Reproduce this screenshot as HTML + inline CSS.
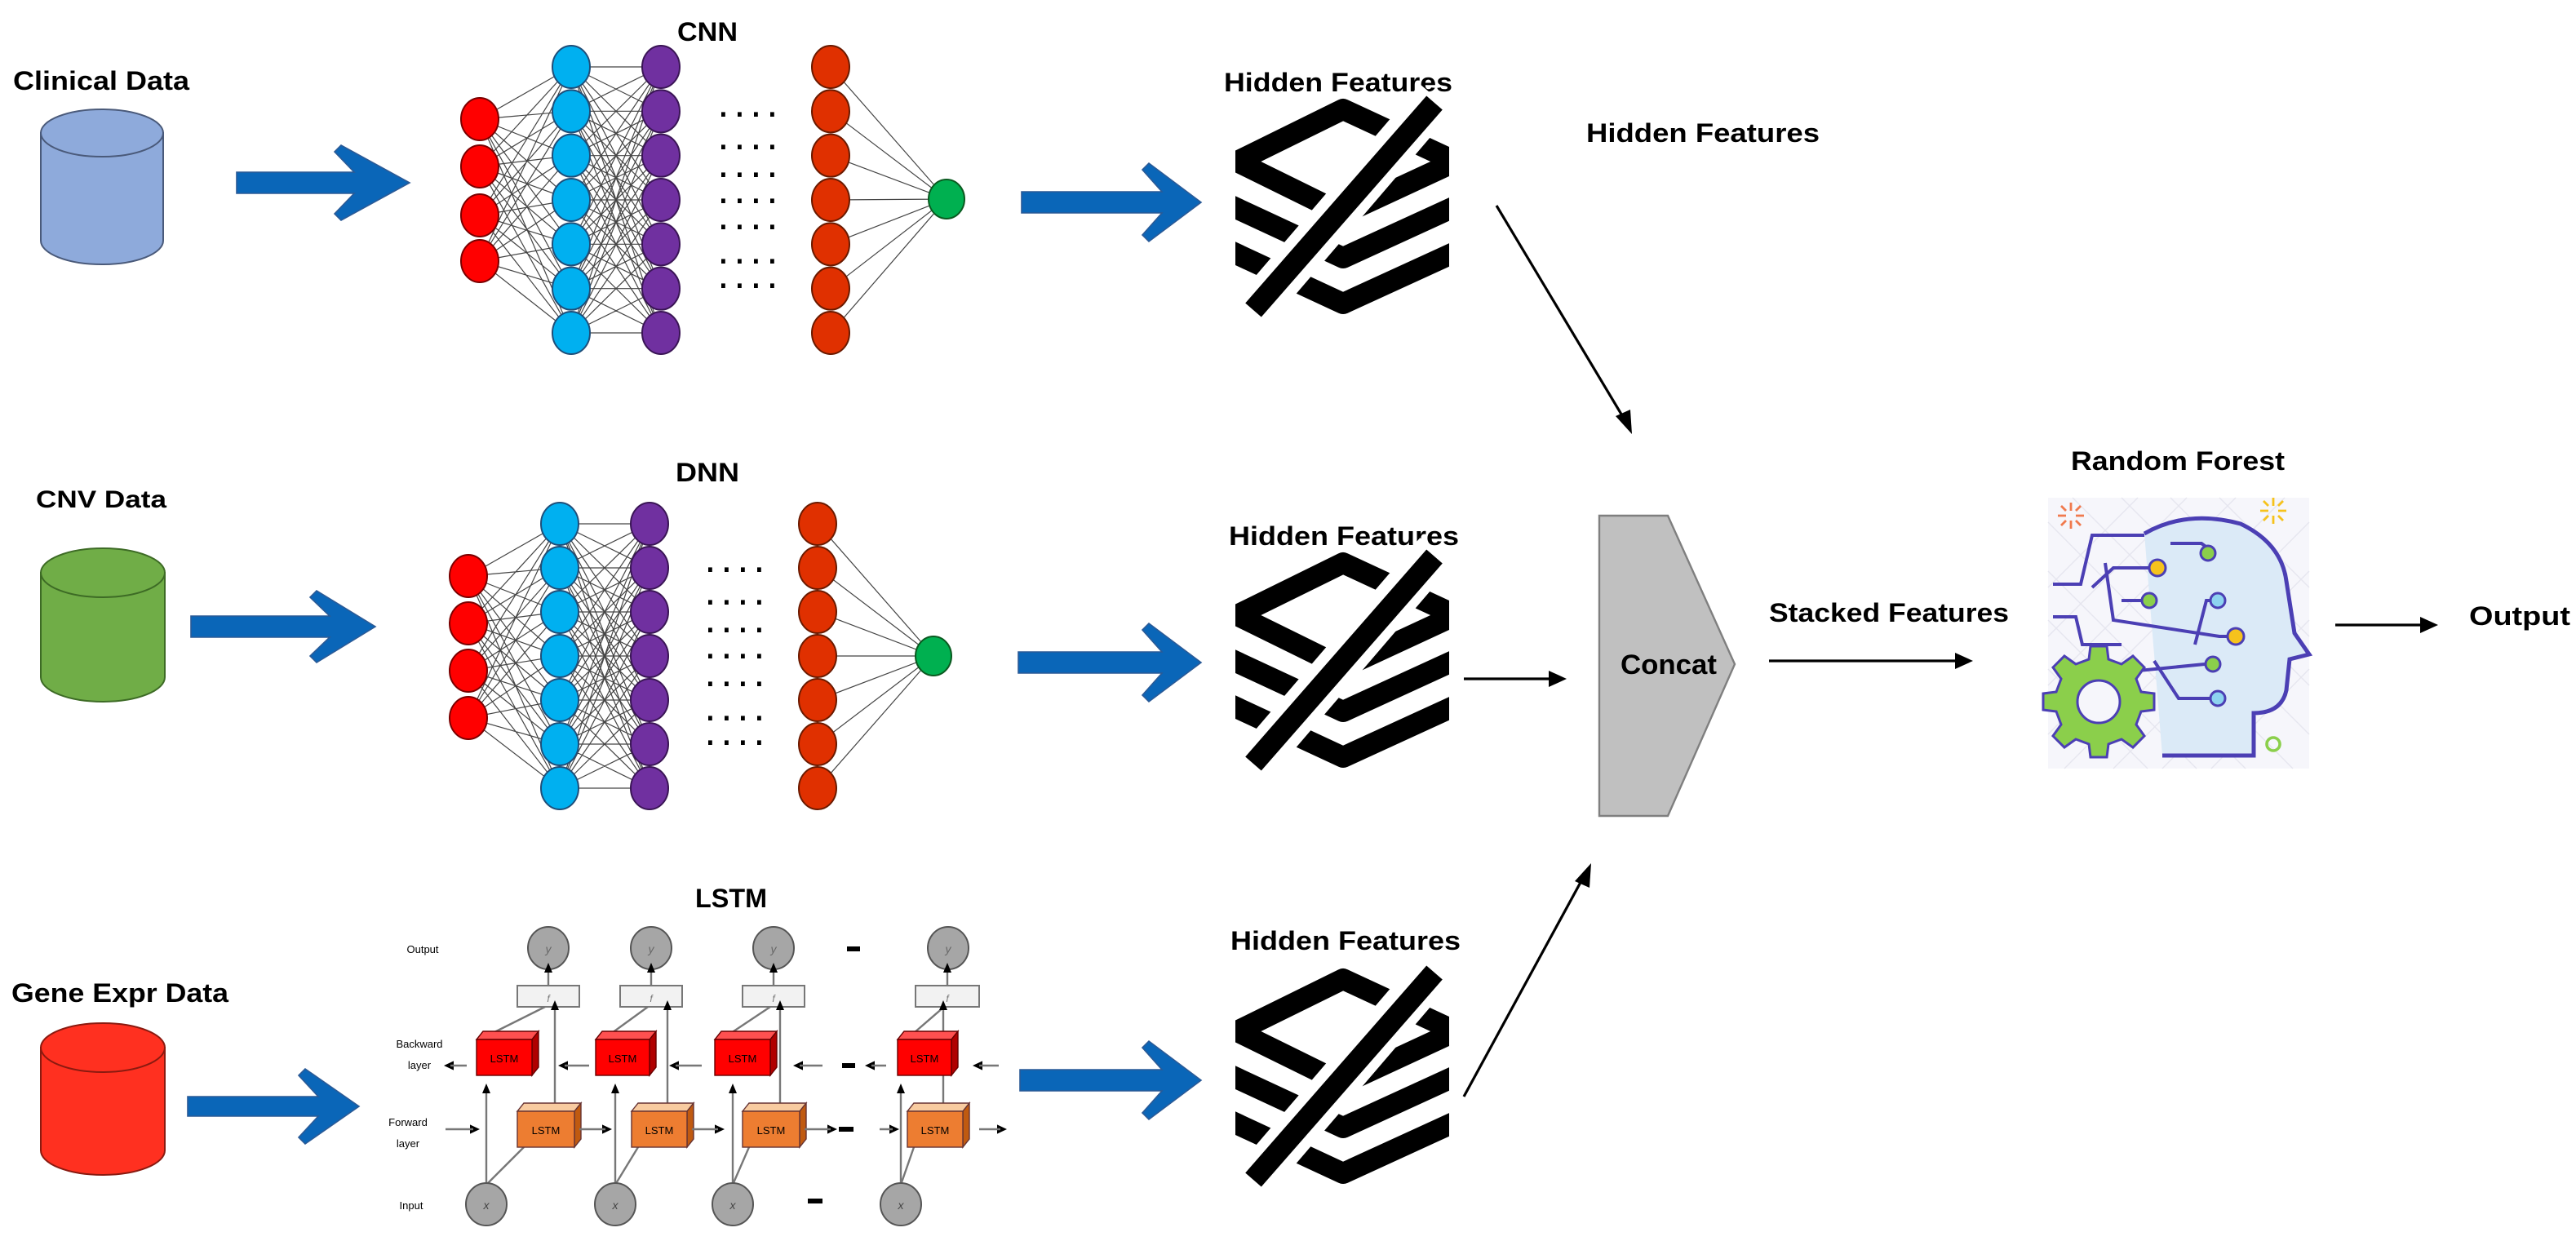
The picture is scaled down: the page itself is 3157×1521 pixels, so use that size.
<!DOCTYPE html>
<html><head><meta charset="utf-8"><style>
html,body{margin:0;padding:0;background:#fff;}
svg{display:block;}
text{font-family:"Liberation Sans",sans-serif;font-weight:bold;fill:#000;}
</style></head><body>
<svg id="s" width="3157" height="1521" viewBox="0 0 1578.5 760.5" xmlns="http://www.w3.org/2000/svg">
<defs>
<clipPath id="ic"><rect x="757" y="560" width="131" height="190"/></clipPath>
<g id="hf">
 <g clip-path="url(#ic)" fill="none" stroke="#000" stroke-width="13" stroke-linejoin="round">
  <path d="M758,632 L823,600 L892,632 L823,664 Z"/>
  <path d="M752,658 L823,691 L895,658"/>
  <path d="M752,686 L823,719 L895,686"/>
  <path d="M880,593 L766,726" stroke="#fff" stroke-width="26" stroke-linecap="butt"/>
  <path d="M879,596 L768,723" stroke-width="13" stroke-linecap="butt"/>
 </g>
</g>
</defs>
<g id="dyn"></g>

<!-- labels -->
<text x="8" y="55" font-size="16" textLength="108" lengthAdjust="spacingAndGlyphs">Clinical Data</text>
<text x="22" y="311" font-size="15" textLength="80" lengthAdjust="spacingAndGlyphs">CNV Data</text>
<text x="7" y="614" font-size="16" textLength="133" lengthAdjust="spacingAndGlyphs">Gene Expr Data</text>
<text x="415" y="25" font-size="16" textLength="37" lengthAdjust="spacingAndGlyphs">CNN</text>
<text x="414" y="295" font-size="16" textLength="39" lengthAdjust="spacingAndGlyphs">DNN</text>
<text x="426" y="556" font-size="16" textLength="44" lengthAdjust="spacingAndGlyphs">LSTM</text>

<text x="750" y="56" font-size="16" textLength="140" lengthAdjust="spacingAndGlyphs">Hidden Features</text>
<text x="753" y="334" font-size="16" textLength="141" lengthAdjust="spacingAndGlyphs">Hidden Features</text>
<text x="754" y="582" font-size="16" textLength="141" lengthAdjust="spacingAndGlyphs">Hidden Features</text>
<text x="972" y="87" font-size="16" textLength="143" lengthAdjust="spacingAndGlyphs">Hidden Features</text>

<use href="#hf" transform="translate(0,-533)"/>
<use href="#hf" transform="translate(0,-255)"/>
<use href="#hf"/>

<!-- connectors -->
<g stroke="#000" stroke-width="1.6" fill="none">
 <line x1="917" y1="126" x2="996" y2="258"/>
 <line x1="897" y1="416" x2="952" y2="416"/>
 <line x1="1084" y1="405" x2="1200" y2="405"/>
 <line x1="1431" y1="383" x2="1486" y2="383"/>
 <line x1="897" y1="672" x2="970" y2="538"/>
</g>
<g fill="#000">
 <polygon points="1000,266 990,255 999,251"/>
 <polygon points="960,416 949,411 949,421"/>
 <polygon points="1209,405 1198,400 1198,410"/>
 <polygon points="1494,383 1483,378 1483,388"/>
 <polygon points="975,529 965,540 974,544"/>
</g>

<!-- concat -->
<polygon points="980,316 1022,316 1063,407 1022,500 980,500" fill="#c0c0c0" stroke="#7f7f7f" stroke-width="1.2"/>
<text x="993" y="413" font-size="17" textLength="59" lengthAdjust="spacingAndGlyphs">Concat</text>
<text x="1084" y="381" font-size="16" textLength="147" lengthAdjust="spacingAndGlyphs">Stacked Features</text>
<text x="1269" y="288" font-size="16" textLength="131" lengthAdjust="spacingAndGlyphs">Random Forest</text>
<text x="1513" y="383" font-size="16" textLength="62" lengthAdjust="spacingAndGlyphs">Output</text>

<!-- random forest head -->
<g>
 <rect x="1255" y="305" width="160" height="166" fill="#f6f6fb"/>
 <g stroke="#e6e6ef" stroke-width="0.7">
  <path d="M1255,320 L1405,471 M1255,350 L1376,471 M1255,380 L1346,471 M1255,410 L1316,471 M1270,305 L1415,450 M1300,305 L1415,420 M1330,305 L1415,390 M1360,305 L1415,360 M1415,320 L1265,471 M1415,350 L1295,471 M1415,380 L1325,471 M1415,410 L1355,471 M1400,305 L1255,450 M1370,305 L1255,420 M1340,305 L1255,390 M1310,305 L1255,360"/>
 </g>
 <path d="M1314,327 Q1340,312 1373,321 Q1398,333 1401,356 L1406,388 L1415,401 L1403,404 L1401,423 Q1398,437 1381,437 L1381,463 L1325,463 Z" fill="#dbeaf7" stroke="none"/>
 <path d="M1314,327 Q1340,312 1373,321 Q1398,333 1401,356 L1406,388 L1415,401 L1403,404 L1401,423 Q1398,437 1381,437 L1381,463 L1325,463" fill="none" stroke="#4b3fb4" stroke-width="2.5"/>
 <g fill="none" stroke="#4b3fb4" stroke-width="2">
  <path d="M1258,358 L1275,358 L1282,328 L1314,328"/>
  <path d="M1282,360 L1295,348 L1317,348"/>
  <path d="M1290,345 L1295,380 L1360,390 L1366,390"/>
  <path d="M1258,378 L1272,378 L1276,395 L1300,395"/>
  <path d="M1317,368 L1300,368"/>
  <path d="M1345,395 L1352,368 L1354,368"/>
  <path d="M1300,412 L1351,407"/>
  <path d="M1320,405 L1335,428 L1354,428"/>
  <path d="M1330,333 L1349,333 L1353,336"/>
 </g>
 <g stroke="#4b3fb4" stroke-width="1.5">
  <circle cx="1322" cy="348" r="5" fill="#f6c21c"/>
  <circle cx="1353" cy="339" r="4.5" fill="#8bcf4b"/>
  <circle cx="1317" cy="368" r="4.5" fill="#8bcf4b"/>
  <circle cx="1359" cy="368" r="4.5" fill="#8dd3f0"/>
  <circle cx="1370" cy="390" r="5" fill="#f6c21c"/>
  <circle cx="1356" cy="407" r="4.5" fill="#8bcf4b"/>
  <circle cx="1359" cy="428" r="4.5" fill="#8dd3f0"/>
 </g>
 <circle cx="1393" cy="456" r="4" fill="none" stroke="#8bcf4b" stroke-width="1.8"/>
 <g transform="translate(1286,430)">
  <g fill="#8bcf4b" stroke="#4b3fb4" stroke-width="1.5">
   <path d="M-5,-34 L5,-34 L6,-26 L14,-23 L21,-28 L28,-21 L23,-14 L26,-6 L34,-5 L34,5 L26,6 L23,14 L28,21 L21,28 L14,23 L6,26 L5,34 L-5,34 L-6,26 L-14,23 L-21,28 L-28,21 L-23,14 L-26,6 L-34,5 L-34,-5 L-26,-6 L-23,-14 L-28,-21 L-21,-28 L-14,-23 L-6,-26 Z"/>
   <circle r="13" fill="#f6f6fb"/>
  </g>
 </g>
 <g stroke="#f07a4e" stroke-width="1.4"><path d="M1269,308 L1269,313 M1269,319 L1269,324 M1261,316 L1266,316 M1272,316 L1277,316 M1263,310 L1266,313 M1272,319 L1275,322 M1275,310 L1272,313 M1266,319 L1263,322"/></g>
 <g stroke="#f6c21c" stroke-width="1.4"><path d="M1393,305 L1393,310 M1393,316 L1393,321 M1385,313 L1390,313 M1396,313 L1401,313 M1387,307 L1390,310 M1396,316 L1399,319 M1399,307 L1396,310 M1390,316 L1387,319"/></g>
</g>
</svg>
<script>
(function(){
var o='';
function arrow(x0,xb,xt,cy,h,H){
 var k=12;
 o+='<polygon points="'+[x0+','+(cy-h),(xb+k)+','+(cy-h),xb+','+(cy-H+4),(xb+4)+','+(cy-H),xt+','+cy,(xb+4)+','+(cy+H),xb+','+(cy+H-4),(xb+k)+','+(cy+h),x0+','+(cy+h)].join(' ')+'" fill="#0a66b8" stroke="#2b5a96" stroke-width="0.8"/>';
}
arrow(145,205,251,112,6.5,23);
arrow(626,700,736,124,6.5,24);
arrow(117,190,230,384,6.5,22);
arrow(624,700,736,406,6.5,24);
arrow(115,183,220,678,6,23);
arrow(625,700,736,662,6.5,24);
function cyl(x,y1,y2,ry,fill,st){
 var rx=(x[1]-x[0])/2,cx=x[0]+rx;
 o+='<path d="M'+x[0]+','+(y1+ry)+' L'+x[0]+','+(y2-ry)+' A'+rx+','+ry+' 0 0 0 '+x[1]+','+(y2-ry)+' L'+x[1]+','+(y1+ry)+' Z" fill="'+fill+'" stroke="'+st+'" stroke-width="1"/>';
 o+='<ellipse cx="'+cx+'" cy="'+(y1+ry)+'" rx="'+rx+'" ry="'+ry+'" fill="'+fill+'" stroke="'+st+'" stroke-width="1"/>';
}
cyl([25,100],67,162,14.5,'#8eaadb','#4a5a7a');
cyl([25,101],336,430,15,'#70ad47','#3d6b25');
cyl([25,101],627,720,15,'#ff3020','#8a1a10');
function net(rx_,rys,cx_,cys,px,ox,g,dx,drows){
 var e='';
 var i,j;
 for(i=0;i<rys.length;i++)for(j=0;j<cys.length;j++)e+='M'+rx_+','+rys[i]+'L'+cx_+','+cys[j];
 for(i=0;i<cys.length;i++)for(j=0;j<cys.length;j++)e+='M'+cx_+','+cys[i]+'L'+px+','+cys[j];
 for(i=0;i<cys.length;i++)e+='M'+ox+','+cys[i]+'L'+g[0]+','+g[1];
 o+='<path d="'+e+'" stroke="#444" stroke-width="0.6" fill="none"/>';
 function node(x,y,f,s){o+='<ellipse cx="'+x+'" cy="'+y+'" rx="11.5" ry="13" fill="'+f+'" stroke="'+s+'" stroke-width="1"/>';}
 rys.forEach(function(y){node(rx_,y,'#ff0000','#7a0000');});
 cys.forEach(function(y){node(cx_,y,'#00b0f0','#1f4e79');});
 cys.forEach(function(y){node(px,y,'#7030a0','#3a1555');});
 cys.forEach(function(y){node(ox,y,'#e03000','#6a1a00');});
 o+='<ellipse cx="'+g[0]+'" cy="'+g[1]+'" rx="11" ry="12" fill="#00b050" stroke="#0a5a20" stroke-width="1"/>';
 drows.forEach(function(y){for(var k=0;k<4;k++)o+='<rect x="'+(dx+k*10)+'" y="'+(y-1.3)+'" width="2.4" height="2.8" fill="#000"/>';});
}
function range(a,b,n){var r=[];for(var i=0;i<n;i++)r.push(a+(b-a)*i/(n-1));return r;}
net(294,[73,102,132,160],350,range(41,204,7),405,509,[580,122],442,[70,90,107,123,139,160,175]);
net(287,[353,382,411,440],343,range(321,483,7),398,501,[572,402],434,[349,369,386,402,419,440,455]);
// LSTM
var outs=[336,399,474,581],boxes=[[317,355],[380,418],[455,493],[561,600]],reds=[[292,326],[365,398],[438,472],[550,583]],ors=[[317,352],[387,421],[455,490],[556,590]],ins=[298,377,449,552];
var ln='';
function ah(x,y,dir){ // small arrowhead
 if(dir=='u')o+='<polygon points="'+x+','+(y-4)+' '+(x-2.5)+','+(y+2)+' '+(x+2.5)+','+(y+2)+'" fill="#000"/>';
 if(dir=='l')o+='<polygon points="'+(x-4)+','+y+' '+(x+2)+','+(y-2.8)+' '+(x+2)+','+(y+2.8)+'" fill="#000"/>';
 if(dir=='r')o+='<polygon points="'+(x+4)+','+y+' '+(x-2)+','+(y-2.8)+' '+(x-2)+','+(y+2.8)+'" fill="#000"/>';
}
for(var i=0;i<4;i++){
 var bc=(boxes[i][0]+boxes[i][1])/2;
 ln+='M'+ins[i]+',726L'+ins[i]+',668';
 ln+='M'+ins[i]+',726L'+(ors[i][0]+4)+',703';
 var vx=ors[i][1]-12;
 ln+='M'+vx+',676L'+vx+',617';
 ln+='M'+(reds[i][0]+10)+',633L'+(bc-2)+',617';
 ln+='M'+bc+',604L'+bc+',594';
}
o+='<path d="'+ln+'" stroke="#777" stroke-width="1.2" fill="none"/>';
for(i=0;i<4;i++){
 var bc=(boxes[i][0]+boxes[i][1])/2;
 o+='<ellipse cx="'+outs[i]+'" cy="581" rx="12.5" ry="13" fill="#a6a6a6" stroke="#555" stroke-width="1"/>';
 o+='<text x="'+outs[i]+'" y="584" font-size="7" text-anchor="middle" fill="#666" style="font-style:italic;font-weight:normal;fill:#666">y</text>';
 o+='<rect x="'+boxes[i][0]+'" y="604" width="'+(boxes[i][1]-boxes[i][0])+'" height="13" fill="#f2f2f2" stroke="#777" stroke-width="1"/>';
 o+='<text x="'+bc+'" y="614" font-size="6" text-anchor="middle" style="font-weight:normal;font-style:italic;fill:#777">f</text>';
 // red cube
 var a=reds[i][0],b=reds[i][1];
 o+='<polygon points="'+a+',637 '+(a+4)+',632 '+(b+4)+',632 '+b+',637" fill="#ff5050" stroke="#600" stroke-width="0.7"/>';
 o+='<polygon points="'+b+',637 '+(b+4)+',632 '+(b+4)+',654 '+b+',659" fill="#b00000" stroke="#600" stroke-width="0.7"/>';
 o+='<rect x="'+a+'" y="637" width="'+(b-a)+'" height="22" fill="#ff0000" stroke="#600" stroke-width="0.7"/>';
 o+='<text x="'+((a+b)/2)+'" y="651" font-size="6.5" text-anchor="middle" style="font-weight:normal">LSTM</text>';
 a=ors[i][0];b=ors[i][1];
 o+='<polygon points="'+a+',681 '+(a+4)+',676 '+(b+4)+',676 '+b+',681" fill="#f8cba0" stroke="#633" stroke-width="0.7"/>';
 o+='<polygon points="'+b+',681 '+(b+4)+',676 '+(b+4)+',698 '+b+',703" fill="#c05a10" stroke="#633" stroke-width="0.7"/>';
 o+='<rect x="'+a+'" y="681" width="'+(b-a)+'" height="22" fill="#ed7d31" stroke="#633" stroke-width="0.7"/>';
 o+='<text x="'+((a+b)/2)+'" y="695" font-size="6.5" text-anchor="middle" style="font-weight:normal">LSTM</text>';
 o+='<ellipse cx="'+ins[i]+'" cy="738" rx="12.5" ry="13" fill="#a6a6a6" stroke="#555" stroke-width="1"/>';
 o+='<text x="'+ins[i]+'" y="741" font-size="7" text-anchor="middle" style="font-style:italic;font-weight:normal;fill:#444">x</text>';
 ah(ins[i],668,'u'); ah(ors[i][1]-12,617,'u'); ah(bc,594,'u');
}
// horizontal arrows
var hl='';
[[286,276],[361,346],[430,414],[504,490],[543,534],[612,600]].forEach(function(p){hl+='M'+p[0]+',653L'+p[1]+',653';ah(p[1],653,'l');});
[[273,290],[355,371],[424,440],[493,509],[539,547],[600,613]].forEach(function(p){hl+='M'+p[0]+',692L'+p[1]+',692';ah(p[1],692,'r');});
o+='<path d="'+hl+'" stroke="#777" stroke-width="1.2" fill="none"/>';
o+='<rect x="516" y="651.5" width="8" height="3" fill="#000"/><rect x="514" y="690.5" width="9" height="3" fill="#000"/><rect x="519" y="580" width="8" height="3" fill="#000"/><rect x="495" y="734.5" width="9" height="3" fill="#000"/>';
function lbl(x,y,t){o+='<text x="'+x+'" y="'+y+'" font-size="6.5" text-anchor="middle" style="font-weight:normal">'+t+'</text>';}
lbl(259,584,'Output');lbl(257,642,'Backward');lbl(257,655,'layer');lbl(250,690,'Forward');lbl(250,703,'layer');lbl(252,741,'Input');
document.getElementById('dyn').innerHTML=o;
})();
</script>
</body></html>
